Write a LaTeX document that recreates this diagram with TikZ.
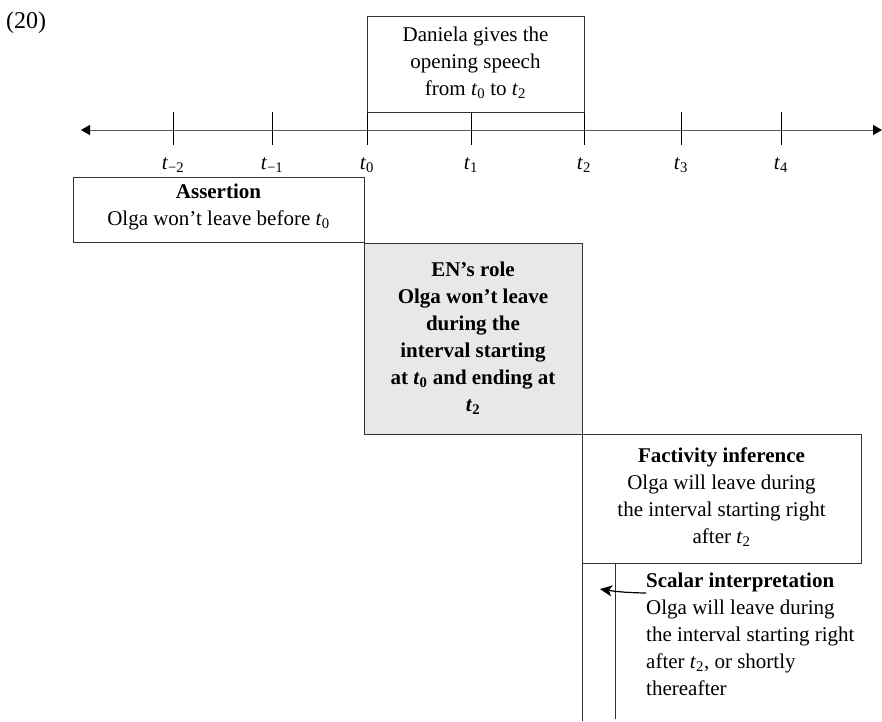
\documentclass[tikz,border=0pt]{standalone}
\usepackage{fontspec}
\setmainfont{Liberation Serif}
\usetikzlibrary{arrows.meta}
\newcommand\tsub[1]{\textit{t}\textsubscript{#1}}
\begin{document}
\begin{tikzpicture}[x=1pt,y=-1pt,
  every node/.style={font=\fontsize{21}{27}\selectfont},
  framebox/.style={draw=black!80,line width=0.9pt,inner sep=0pt},
  txt/.style={align=center,inner sep=0pt},
  axisline/.style={draw=black!65,line width=1pt,
    {Triangle[length=9pt,width=10pt,color=black]}-{Triangle[length=9pt,width=10pt,color=black]}},
  tickmark/.style={draw=black,line width=0.9pt},
  ticklabel/.style={inner sep=0pt,anchor=base},
  pointer/.style={draw=black,line width=1.2pt,-{Stealth[length=12pt,width=11pt,inset=3pt]}}]
\useasboundingbox (0,0) rectangle (882,721);

% example number
\node[inner sep=0pt,anchor=base west,font=\fontsize{24}{28}\selectfont] (num) at (6,28) {(20)};

% time axis
\coordinate (axL) at (81,130);
\coordinate (axR) at (882,130);
\draw[axisline] (axL) -- (axR);

% ticks and their labels
\foreach \n/\x/\l in {tm2/173/−2, tm1/272/−1, t0/367/0, t1/471/1, t2/584/2, t3/681/3, t4/781/4}{
  \coordinate (\n) at (\x,130);
  \draw[tickmark] (\x,112) -- (\x,145);
  \node[ticklabel] (\n lab) at (\x,169) {\tsub{\l}};
}

% event box above the axis
\node[framebox,minimum width=217pt,minimum height=96pt] (speech) at (475.5,64) {};
\node[txt] (speechtxt) at (475.5,63) {Daniela gives the\\opening speech\\from \tsub{0} to \tsub{2}};

% assertion
\node[framebox,minimum width=291pt,minimum height=65pt] (assert) at (218.5,209.5) {};
\node[txt] (asserttxt) at (218.5,207) {\textbf{Assertion}\\Olga won’t leave before \tsub{0}};

% role of EN
\node[framebox,fill=black!9,minimum width=218pt,minimum height=191pt] (enrole) at (473,338.5) {};
\node[txt,font=\fontsize{21}{27}\selectfont\bfseries] (enroletxt) at (473,338) {EN’s role\\Olga won’t leave\\during the\\interval starting\\at \tsub{0} and ending at\\\tsub{2}};

% factivity inference
\node[framebox,minimum width=279pt,minimum height=129pt] (fact) at (721.5,498.5) {};
\node[txt] (facttxt) at (721.5,497) {\textbf{Factivity inference}\\Olga will leave during\\the interval starting right\\after \tsub{2}};

% open-ended scalar interval
\coordinate (sL) at (582,563);
\coordinate (sLend) at (582,721);
\coordinate (sR) at (615,563);
\coordinate (sRend) at (615,719);
\draw[framebox] (sL) -- (sLend);
\draw[framebox] (sR) -- (sRend);
\node[txt,align=left,anchor=west] (scalar) at (646,634) {\textbf{Scalar interpretation}\\Olga will leave during\\the interval starting right\\after \tsub{2}, or shortly\\thereafter};
\coordinate (ptip) at (600,589);
\draw[pointer] (scalar.west |- 0,593) to[bend left=4] (ptip);
\end{tikzpicture}
\end{document}
